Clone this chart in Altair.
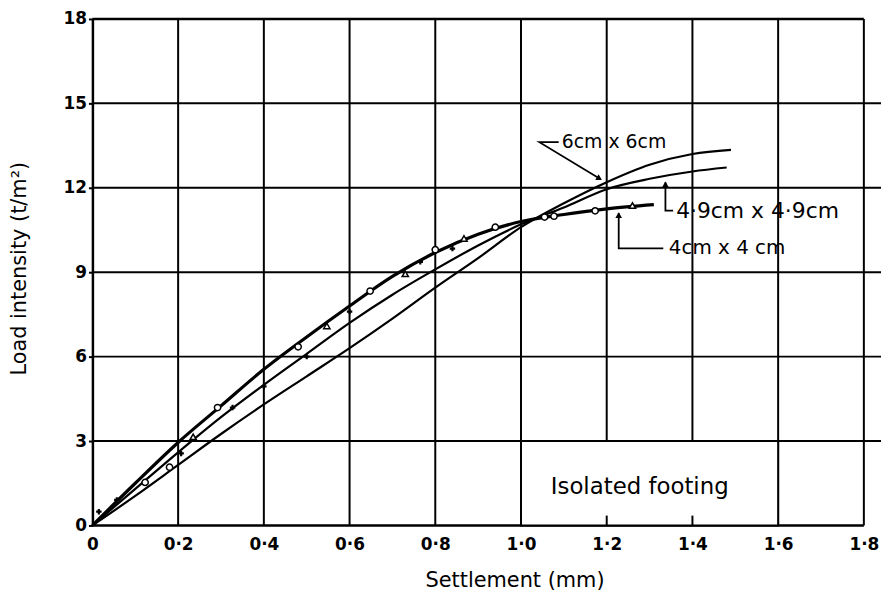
import altair as alt
import pandas as pd

# ---- data ----
x_4 = [0, 0.1, 0.2, 0.3, 0.4, 0.5, 0.6, 0.7, 0.8, 0.9, 1.0, 1.1, 1.2, 1.31]
y_4 = [0, 1.5, 2.95, 4.25, 5.55, 6.7, 7.8, 8.85, 9.7, 10.35, 10.8, 11.05, 11.25, 11.4]

x_49 = [0, 0.1, 0.2, 0.3, 0.4, 0.5, 0.6, 0.7, 0.8, 0.9, 1.0, 1.1, 1.2, 1.3, 1.4, 1.48]
y_49 = [0, 1.3, 2.6, 3.85, 5.0, 6.1, 7.2, 8.2, 9.1, 9.95, 10.7, 11.3, 11.95, 12.32, 12.58, 12.72]

x_6 = [0, 0.1, 0.2, 0.3, 0.4, 0.5, 0.6, 0.7, 0.8, 0.9, 1.0, 1.1, 1.2, 1.3, 1.4, 1.49]
y_6 = [0, 1.05, 2.15, 3.25, 4.3, 5.3, 6.3, 7.35, 8.45, 9.5, 10.6, 11.45, 12.2, 12.82, 13.2, 13.35]

circ_x = [0.123, 0.18, 0.292, 0.48, 0.648, 0.8, 0.94, 1.055, 1.077, 1.173]
circ_y = [1.53, 2.07, 4.19, 6.35, 8.33, 9.8, 10.6, 10.96, 10.99, 11.18]
tri_x = [0.235, 0.547, 0.73, 0.867, 1.26]
tri_y = [3.15, 7.09, 8.94, 10.2, 11.37]
cross_x = [0.015, 0.057, 0.207, 0.327, 0.4, 0.5, 0.6, 0.765, 0.84]
cross_y = [0.49, 0.91, 2.56, 4.19, 4.94, 6.0, 7.6, 9.37, 9.84]

x_ticks = [0, 0.2, 0.4, 0.6, 0.8, 1.0, 1.2, 1.4, 1.6, 1.8]
y_ticks = [0, 3, 6, 9, 12, 15, 18]
v_grid = [0.2, 0.4, 0.6, 0.8, 1.0, 1.2, 1.4, 1.6, 1.8]
h_grid = [3, 6, 9, 12, 15]

labels = ["6cm x 6cm", "4·9cm x 4·9cm", "4cm x 4 cm"]
label_x = [1.095, 1.362, 1.345]
label_y = [13.62, 11.19, 9.85]
label_size = [19, 22, 20]

# leader lines (annotation polylines)
lead_id = ["a", "a", "a", "b", "b", "b", "c", "c", "c"]
lead_ord = [0, 1, 2, 0, 1, 2, 0, 1, 2]
lead_x = [1.088, 1.043, 1.186, 1.337, 1.337, 1.355, 1.228, 1.228, 1.332]
lead_y = [13.62, 13.62, 12.3, 12.2, 11.19, 11.19, 11.1, 9.85, 9.85]
arrow_x = [1.183, 1.337, 1.228]
arrow_y = [12.33, 12.12, 11.03]
arrow_angle = [120, 0, 0]

W, H = 794, 510
FONT = "DejaVu Sans"

xs = alt.Scale(domain=[0, 1.84], nice=False, zero=False)
ys = alt.Scale(domain=[0, 18], nice=False)

x_axis = alt.Axis(values=x_ticks, grid=False, domain=False, ticks=False,
                  labelExpr="datum.value == 0 ? '0' : replace(format(datum.value, '.1f'), '.', '·')",
                  labelFontSize=17, labelFont=FONT, labelFontWeight="bold", labelColor="black",
                  labelPadding=11, labelFlush=False,
                  title="Settlement (mm)", titleFont=FONT, titleFontSize=21,
                  titleFontWeight="normal", titleColor="black",
                  titleX=425, titleY=55, titleBaseline="middle", titleAlign="center")
y_axis = alt.Axis(values=y_ticks, grid=False, domain=True, domainColor="black", domainWidth=2.5,
                  ticks=True, tickSize=4, tickColor="black", tickWidth=2,
                  labelFontSize=17, labelFont=FONT, labelFontWeight="bold", labelColor="black",
                  labelPadding=2, labelFlush=False, format="d",
                  title="Load intensity (t/m²)", titleFont=FONT, titleFontSize=21,
                  titleFontWeight="normal", titleColor="black",
                  titleX=-73, titleY=251, titleBaseline="middle", titleAlign="center", titleAngle=270)


def X(f):
    return alt.X(f, type="quantitative", scale=xs, axis=x_axis)


def Y(f):
    return alt.Y(f, type="quantitative", scale=ys, axis=y_axis)


vg = pd.DataFrame({"x": v_grid, "y0": [0] * len(v_grid), "y1": [18] * len(v_grid)})
hg = pd.DataFrame({"y": h_grid, "x0": [0] * len(h_grid), "x1": [1.84] * len(h_grid)})
frame = pd.DataFrame({"y": [0, 18], "x0": [0, 0], "x1": [1.8, 1.8]})

vgrid = alt.Chart(vg).mark_rule(color="black", strokeWidth=2).encode(
    x=X("x"), y=Y("y0"), y2="y1")
hgrid = alt.Chart(hg).mark_rule(color="black", strokeWidth=2).encode(
    y=Y("y"), x=X("x0"), x2="x1")
frame_l = alt.Chart(frame).mark_rule(color="black", strokeWidth=2.5).encode(
    y=Y("y"), x=X("x0"), x2="x1")

box_df = pd.DataFrame({"x0": [1.0], "x1": [1.6], "y0": [0], "y1": [3]})
box = alt.Chart(box_df).mark_rect(fill="white", stroke="black", strokeWidth=2).encode(
    x=X("x0"), x2="x1", y=Y("y0"), y2="y1")
stub_df = pd.DataFrame({"x": [1.2, 1.4], "y0": [0, 0], "y1": [0.35, 0.35]})
stubs = alt.Chart(stub_df).mark_rule(color="black", strokeWidth=2).encode(
    x=X("x"), y=Y("y0"), y2="y1")
iso = alt.Chart(pd.DataFrame({"x": [1.277], "y": [1.38], "t": ["Isolated footing"]})).mark_text(
    font=FONT, fontSize=23, color="black", align="center", baseline="middle").encode(
    x=X("x"), y=Y("y"), text="t:N")

c4 = alt.Chart(pd.DataFrame({"x": x_4, "y": y_4})).mark_line(
    color="black", strokeWidth=3.2, interpolate="monotone").encode(x=X("x"), y=Y("y"))
c49 = alt.Chart(pd.DataFrame({"x": x_49, "y": y_49})).mark_line(
    color="black", strokeWidth=2.2, interpolate="monotone").encode(x=X("x"), y=Y("y"))
c6 = alt.Chart(pd.DataFrame({"x": x_6, "y": y_6})).mark_line(
    color="black", strokeWidth=2.2, interpolate="monotone").encode(x=X("x"), y=Y("y"))

pc = alt.Chart(pd.DataFrame({"x": circ_x, "y": circ_y})).mark_point(
    shape="circle", size=40, fill="white", filled=False, stroke="black", strokeWidth=1.5, opacity=1).encode(
    x=X("x"), y=Y("y"))
pt = alt.Chart(pd.DataFrame({"x": tri_x, "y": tri_y})).mark_point(
    shape="triangle-up", size=40, fill="white", filled=False, stroke="black", strokeWidth=1.5, opacity=1).encode(
    x=X("x"), y=Y("y"))
px = alt.Chart(pd.DataFrame({"x": cross_x, "y": cross_y})).mark_point(
    shape="cross", size=30, filled=True, color="black", opacity=1).encode(
    x=X("x"), y=Y("y"))

lead = alt.Chart(pd.DataFrame({"id": lead_id, "o": lead_ord, "x": lead_x, "y": lead_y})).mark_line(
    color="black", strokeWidth=1.8).encode(
    x=X("x"), y=Y("y"), detail="id:N", order="o:Q")
arrows = alt.Chart(pd.DataFrame({"x": arrow_x, "y": arrow_y, "a": arrow_angle})).mark_point(
    shape="triangle-up", size=45, filled=True, color="black", opacity=1).encode(
    x=X("x"), y=Y("y"), angle=alt.Angle("a:Q", scale=None))

lab_df = pd.DataFrame({"x": label_x, "y": label_y, "t": labels, "s": label_size})
texts = alt.Chart(lab_df).mark_text(
    font=FONT, color="black", align="left", baseline="middle").encode(
    x=X("x"), y=Y("y"), text="t:N", size=alt.Size("s:Q", scale=None, legend=None))

chart = alt.layer(
    vgrid, hgrid, frame_l, box, stubs, iso, c6, c49, c4, pc, pt, px, lead, arrows, texts
).properties(
    width=W, height=H,
    padding={"left": 85, "top": 9, "right": 0, "bottom": 68},
    autosize=alt.AutoSizeParams(type="none"),
    background="white",
).configure_view(strokeWidth=0)

chart.save("out.html", embed_options={"renderer": "svg", "actions": False})
